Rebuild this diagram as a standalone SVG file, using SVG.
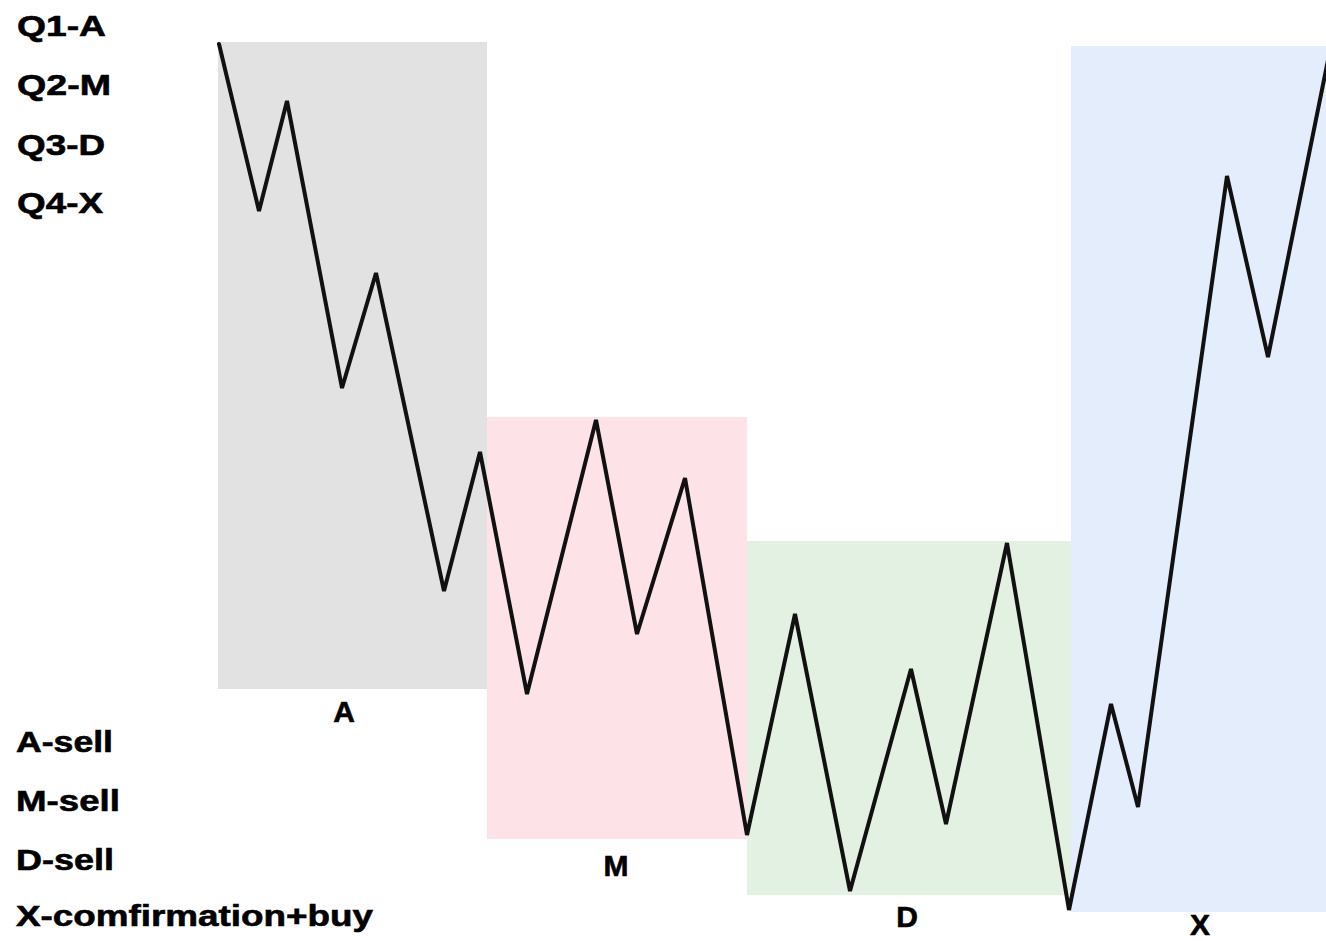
<svg xmlns="http://www.w3.org/2000/svg" width="1326" height="941" viewBox="0 0 1326 941">
<style>
.t{font-family:"Liberation Sans",Arial,sans-serif;font-weight:bold;font-size:30px;fill:#000;stroke:#000;stroke-width:0.6}
.s{font-family:"Liberation Sans",Arial,sans-serif;font-weight:bold;font-size:30px;fill:#000;stroke:#000;stroke-width:0.6;text-anchor:middle}
.line{fill:none;stroke:#111;stroke-width:4;stroke-linejoin:miter;stroke-linecap:round}
</style>
<rect width="1326" height="941" fill="#fff"/>
<g id="zone-A"><rect x="218" y="42" width="269" height="647" fill="#e2e2e2"/><text class="s" x="344" y="722">A</text></g>
<g id="zone-M"><rect x="487" y="417" width="260" height="422" fill="#fde3e8"/><text class="s" x="616" y="876">M</text></g>
<g id="zone-D"><rect x="747" y="541" width="324" height="354" fill="#e3f1e3"/><text class="s" x="907" y="927">D</text></g>
<g id="zone-X"><rect x="1071" y="46" width="255" height="866" fill="#e3edfc"/><text class="s" x="1200" y="935">X</text></g>
<g id="legend-top">
<text class="t" x="17" y="36" textLength="89" lengthAdjust="spacingAndGlyphs">Q1-A</text>
<text class="t" x="17" y="95" textLength="94" lengthAdjust="spacingAndGlyphs">Q2-M</text>
<text class="t" x="17" y="155" textLength="88" lengthAdjust="spacingAndGlyphs">Q3-D</text>
<text class="t" x="17" y="213" textLength="86" lengthAdjust="spacingAndGlyphs">Q4-X</text>
</g>
<g id="legend-bottom">
<text class="t" x="16" y="752" textLength="97" lengthAdjust="spacingAndGlyphs">A-sell</text>
<text class="t" x="16" y="811" textLength="104" lengthAdjust="spacingAndGlyphs">M-sell</text>
<text class="t" x="16" y="870" textLength="98" lengthAdjust="spacingAndGlyphs">D-sell</text>
<text class="t" x="16" y="926" textLength="357" lengthAdjust="spacingAndGlyphs">X-comfirmation+buy</text>
</g>
<g id="connectors">
<polyline class="line" points="219,44 259,211 287,101 342,388 376,273 444,591 480,452 527,694 596,420 637,634 685,478 747,835 795,614 850,891 911,669 946,824 1007,543 1069,910 1111,704 1138,807 1227,176 1268,357 1330,50"/>
</g>
</svg>
